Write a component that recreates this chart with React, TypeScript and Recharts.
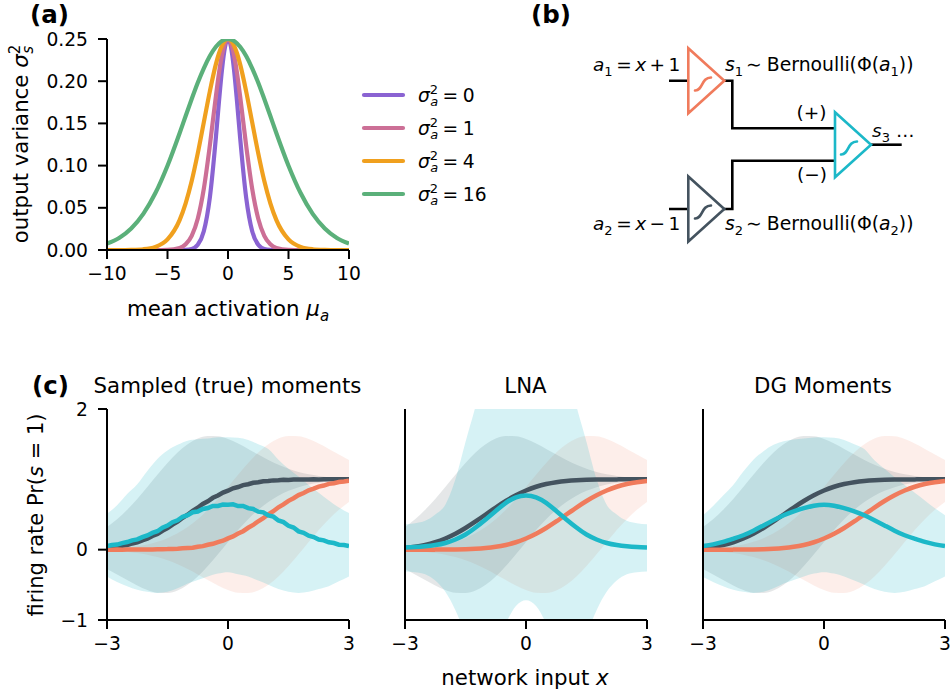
import { ComposedChart, LineChart, Line, Area, XAxis, YAxis } from "recharts";

const FONT = "'DejaVu Sans', sans-serif";
const ORANGE = "#f07b5c";
const DARK = "#44535f";
const TEAL = "#1cb8c8";

// panel (a)
const meanActivation = [
  -10, -9, -8, -7, -6, -5, -4, -3.5, -3, -2.5, -2, -1.5, -1, -0.75, -0.5, -0.25, 0,
  0.25, 0.5, 0.75, 1, 1.5, 2, 2.5, 3, 3.5, 4, 5, 6, 7, 8, 9, 10,
];
const variance0 = [
  0, 0, 0, 0, 0, 0, 0, 0.0002, 0.0013, 0.0062, 0.0222, 0.0623, 0.1335, 0.1753, 0.2133, 0.2403, 0.25,
  0.2403, 0.2133, 0.1753, 0.1335, 0.0623, 0.0222, 0.0062, 0.0013, 0.0002, 0, 0, 0, 0, 0, 0, 0,
];
const variance1 = [
  0, 0, 0, 0, 0, 0.0002, 0.0023, 0.0067, 0.0167, 0.037, 0.0724, 0.1237, 0.1823, 0.2092, 0.231, 0.245, 0.25,
  0.245, 0.231, 0.2092, 0.1823, 0.1237, 0.0724, 0.037, 0.0167, 0.0067, 0.0023, 0.0002, 0, 0, 0, 0, 0,
];
const variance4 = [
  0, 0, 0.0002, 0.0009, 0.0036, 0.0125, 0.0354, 0.0553, 0.0817, 0.1144, 0.1512, 0.188, 0.2202, 0.2328, 0.2422, 0.248, 0.25,
  0.248, 0.2422, 0.2328, 0.2202, 0.188, 0.1512, 0.1144, 0.0817, 0.0553, 0.0354, 0.0125, 0.0036, 0.0009, 0.0002, 0, 0,
];
const variance16 = [
  0.0076, 0.0143, 0.0255, 0.0428, 0.0675, 0.0999, 0.1384, 0.1588, 0.1789, 0.1982, 0.2153, 0.2298, 0.2408, 0.2448, 0.2477, 0.2494, 0.25,
  0.2494, 0.2477, 0.2448, 0.2408, 0.2298, 0.2153, 0.1982, 0.1789, 0.1588, 0.1384, 0.0999, 0.0675, 0.0428, 0.0255, 0.0143, 0.0076,
];
const varianceLabels = ["0", "1", "4", "16"];
const varianceColors = ["#8a63d2", "#cc6f96", "#f0a01e", "#5bb07a"];
const varianceTicks = [0, 0.05, 0.1, 0.15, 0.2, 0.25];
const activationTicks = [-10, -5, 0, 5, 10];

// panel (c), shared by all three plots
const inputX = [
  -3, -2.75, -2.5, -2.25, -2, -1.75, -1.5, -1.25, -1, -0.75, -0.5, -0.25, 0,
  0.25, 0.5, 0.75, 1, 1.25, 1.5, 1.75, 2, 2.25, 2.5, 2.75, 3,
];
const orangeMean = [
  0, 0.0001, 0.0002, 0.0006, 0.0013, 0.003, 0.0062, 0.0122, 0.0228, 0.0401, 0.0668, 0.1056, 0.1587,
  0.2266, 0.3085, 0.4013, 0.5, 0.5987, 0.6915, 0.7734, 0.8413, 0.8944, 0.9332, 0.9599, 0.9772,
];
const orangeHi = [
  0.011, 0.02, 0.028, 0.05, 0.073, 0.112, 0.163, 0.232, 0.321, 0.432, 0.566, 0.72, 0.89,
  1.064, 1.232, 1.382, 1.5, 1.579, 1.615, 1.611, 1.572, 1.509, 1.433, 1.352, 1.276,
];
const orangeLo = [
  -0.011, -0.02, -0.028, -0.048, -0.071, -0.106, -0.151, -0.207, -0.276, -0.352, -0.433, -0.509, -0.572,
  -0.611, -0.615, -0.579, -0.5, -0.382, -0.232, -0.064, 0.11, 0.28, 0.434, 0.568, 0.679,
];
const darkMean = [
  0.0228, 0.0401, 0.0668, 0.1056, 0.1587, 0.2266, 0.3085, 0.4013, 0.5, 0.5987, 0.6915, 0.7734, 0.8413,
  0.8944, 0.9332, 0.9599, 0.9772, 0.9878, 0.9938, 0.997, 0.9987, 0.9994, 0.9998, 0.9999, 1,
];
const darkHi = [
  0.321, 0.432, 0.566, 0.72, 0.89, 1.064, 1.232, 1.382, 1.5, 1.579, 1.615, 1.611, 1.572,
  1.509, 1.433, 1.352, 1.276, 1.207, 1.151, 1.106, 1.071, 1.048, 1.028, 1.02, 1.011,
];
const darkLo = [
  -0.276, -0.352, -0.433, -0.509, -0.572, -0.611, -0.615, -0.579, -0.5, -0.382, -0.232, -0.064, 0.11,
  0.28, 0.434, 0.568, 0.679, 0.768, 0.837, 0.888, 0.927, 0.95, 0.972, 0.98, 0.989,
];

// the sampled plot's means are noisy, so they are read on a finer grid
const sampledX = [
  -3, -2.875, -2.75, -2.625, -2.5, -2.375, -2.25, -2.125, -2, -1.875, -1.75, -1.625, -1.5, -1.375, -1.25, -1.125,
  -1, -0.875, -0.75, -0.625, -0.5, -0.375, -0.25, -0.125, 0, 0.125, 0.25, 0.375, 0.5, 0.625, 0.75, 0.875,
  1, 1.125, 1.25, 1.375, 1.5, 1.625, 1.75, 1.875, 2, 2.125, 2.25, 2.375, 2.5, 2.625, 2.75, 2.875, 3,
];
const sampledTeal = [
  0.05, 0.066, 0.072, 0.093, 0.108, 0.132, 0.146, 0.178, 0.202, 0.238, 0.262, 0.312, 0.342, 0.39, 0.418, 0.468,
  0.49, 0.532, 0.542, 0.578, 0.592, 0.622, 0.622, 0.642, 0.638, 0.645, 0.62, 0.622, 0.59, 0.578, 0.54, 0.53,
  0.488, 0.47, 0.415, 0.392, 0.34, 0.315, 0.26, 0.24, 0.2, 0.18, 0.145, 0.133, 0.105, 0.094, 0.07, 0.065, 0.05,
];
const sampledDark = [
  0.023, 0.032, 0.038, 0.054, 0.065, 0.088, 0.103, 0.133, 0.156, 0.194, 0.224, 0.269, 0.306, 0.357, 0.398, 0.453,
  0.497, 0.553, 0.596, 0.649, 0.688, 0.737, 0.77, 0.812, 0.838, 0.873, 0.891, 0.918, 0.93, 0.951, 0.958, 0.972,
  0.975, 0.985, 0.986, 0.993, 0.992, 0.997, 0.996, 0.999, 0.998, 1, 0.999, 1, 1, 1, 1, 1, 1,
];
const sampledOrange = [
  0, 0, 0.001, 0, 0.002, 0.001, 0.002, 0.002, 0.003, 0.004, 0.005, 0.007, 0.008, 0.011, 0.014, 0.019,
  0.025, 0.028, 0.042, 0.05, 0.069, 0.083, 0.108, 0.127, 0.161, 0.188, 0.229, 0.263, 0.311, 0.351, 0.404, 0.447,
  0.503, 0.547, 0.602, 0.643, 0.694, 0.731, 0.776, 0.806, 0.844, 0.867, 0.897, 0.912, 0.936, 0.945, 0.962, 0.968, 0.979,
];

const tealSampledHi = [
  0.51, 0.63, 0.79, 0.93, 1.12, 1.29, 1.41, 1.49, 1.55, 1.57, 1.58, 1.6, 1.6,
  1.59, 1.56, 1.5, 1.43, 1.28, 1.15, 1.04, 0.92, 0.81, 0.7, 0.6, 0.52,
];
const tealSampledLo = [
  -0.38, -0.46, -0.52, -0.57, -0.6, -0.615, -0.6, -0.55, -0.48, -0.43, -0.38, -0.34, -0.32,
  -0.35, -0.38, -0.44, -0.5, -0.56, -0.6, -0.615, -0.6, -0.56, -0.52, -0.45, -0.38,
];
const tealLnaMean = [
  0.032, 0.038, 0.048, 0.065, 0.095, 0.145, 0.215, 0.315, 0.43, 0.55, 0.665, 0.745, 0.77,
  0.745, 0.665, 0.55, 0.43, 0.315, 0.215, 0.145, 0.095, 0.065, 0.048, 0.038, 0.032,
];
const tealLnaHi = [
  0.36, 0.375, 0.41, 0.5, 0.64, 1.0, 1.53, 2.04, 2.6, 2.9, 3, 3, 3,
  3, 3, 2.9, 2.6, 2.04, 1.53, 1.0, 0.64, 0.5, 0.41, 0.375, 0.36,
];
const tealLnaLo = [
  -0.31, -0.32, -0.35, -0.44, -0.6, -0.86, -1.2, -1.5, -1.6, -1.4, -1.05, -0.8, -0.72,
  -0.8, -1.05, -1.4, -1.6, -1.5, -1.2, -0.86, -0.6, -0.44, -0.35, -0.32, -0.31,
];
const tealDgMean = [
  0.05, 0.075, 0.11, 0.155, 0.205, 0.27, 0.345, 0.42, 0.49, 0.545, 0.59, 0.625, 0.64,
  0.625, 0.59, 0.545, 0.49, 0.42, 0.345, 0.27, 0.205, 0.155, 0.11, 0.075, 0.05,
];
const tealDgHi = [
  0.49, 0.62, 0.77, 0.92, 1.11, 1.28, 1.4, 1.49, 1.54, 1.565, 1.58, 1.595, 1.6,
  1.59, 1.56, 1.5, 1.43, 1.27, 1.15, 1.03, 0.92, 0.81, 0.7, 0.59, 0.49,
];
const tealDgLo = [
  -0.39, -0.46, -0.52, -0.57, -0.6, -0.615, -0.6, -0.55, -0.48, -0.43, -0.38, -0.34, -0.32,
  -0.34, -0.38, -0.44, -0.5, -0.56, -0.6, -0.615, -0.6, -0.56, -0.52, -0.45, -0.38,
];
const rateTicks = [-1, 0, 2];
const inputTicks = [-3, 0, 3];

const varianceData = meanActivation.map((x, i) => ({
  x,
  v0: variance0[i],
  v1: variance1[i],
  v4: variance4[i],
  v16: variance16[i],
}));
const sampledData = sampledX.map((x, i) => ({
  x,
  teal: sampledTeal[i],
  dark: sampledDark[i],
  orange: sampledOrange[i],
}));

const minus = (v: number) => String(v).replace("-", "\u2212");
const tickStyle = { fontSize: 18.7, fontFamily: FONT, fill: "#000" };
const axisLine = { stroke: "#000", strokeWidth: 2 };
const tickLine = { stroke: "#000", strokeWidth: 2 };

function VarianceLegend() {
  return (
    <svg width={140} height={120} style={{ position: "absolute", left: 362, top: 83, overflow: "visible" }}>
      {varianceLabels.map((label, i) => {
        const y = 12 + i * 33;
        return (
          <g key={label}>
            <line x1={2} x2={41} y1={y} y2={y} stroke={varianceColors[i]} strokeWidth={4.2} strokeLinecap="round" />
            <text x={56} y={y + 6.5} fontSize={18.7} fontFamily={FONT} fill="#000">
              <tspan fontStyle="italic">σ</tspan>
              <tspan dy={-7.5} fontSize={13}>2</tspan>
              <tspan dx={-8} dy={12} fontSize={13} fontStyle="italic">a</tspan>
              <tspan dx={4.5} dy={-4.5}>=</tspan>
              <tspan dx={4.5}>{label}</tspan>
            </text>
          </g>
        );
      })}
    </svg>
  );
}

function VariancePanel() {
  return (
    <div style={{ position: "absolute", left: 27, top: 0 }}>
      <LineChart width={473} height={300} data={varianceData} margin={{ top: 39, right: 151, bottom: 0, left: 0 }}>
        <XAxis
          dataKey="x"
          type="number"
          domain={[-10, 10]}
          ticks={activationTicks}
          tickFormatter={minus}
          allowDataOverflow
          height={50}
          tick={tickStyle}
          tickSize={9}
          tickMargin={8}
          axisLine={axisLine}
          tickLine={tickLine}
          interval={0}
        />
        <YAxis
          type="number"
          domain={[0, 0.25]}
          ticks={varianceTicks}
          tickFormatter={(v: number) => v.toFixed(2)}
          allowDataOverflow
          width={80}
          tick={tickStyle}
          tickSize={9}
          tickMargin={10}
          axisLine={axisLine}
          tickLine={tickLine}
          interval={0}
        />
        <Line dataKey="v0" type="monotone" stroke={varianceColors[0]} strokeWidth={4.2} dot={false} isAnimationActive={false} />
        <Line dataKey="v1" type="monotone" stroke={varianceColors[1]} strokeWidth={4.2} dot={false} isAnimationActive={false} />
        <Line dataKey="v4" type="monotone" stroke={varianceColors[2]} strokeWidth={4.2} dot={false} isAnimationActive={false} />
        <Line dataKey="v16" type="monotone" stroke={varianceColors[3]} strokeWidth={4.2} dot={false} isAnimationActive={false} />
      </LineChart>
    </div>
  );
}

function RatePanel({ left, showY, sampled, tealMean, tealHi, tealLo }: {
  left: number;
  showY: boolean;
  sampled: boolean;
  tealMean: number[];
  tealHi: number[];
  tealLo: number[];
}) {
  const data = inputX.map((x, i) => ({
    x,
    orange: orangeMean[i],
    orangeBand: [orangeLo[i], orangeHi[i]],
    dark: darkMean[i],
    darkBand: [darkLo[i], darkHi[i]],
    teal: tealMean[i],
    tealBand: [tealLo[i], tealHi[i]],
  }));
  const curve = sampled ? "linear" : "natural";
  const lineData = sampled ? sampledData : data;
  return (
    <div style={{ position: "absolute", left: left - 60, top: 370 }}>
      <ComposedChart width={314} height={300} data={data} margin={{ top: 39, right: 12, bottom: 0, left: 0 }}>
        <XAxis
          dataKey="x"
          type="number"
          domain={[-3, 3]}
          ticks={inputTicks}
          tickFormatter={minus}
          allowDataOverflow
          height={50}
          tick={tickStyle}
          tickSize={9}
          tickMargin={8}
          axisLine={axisLine}
          tickLine={tickLine}
          interval={0}
        />
        <YAxis
          type="number"
          domain={[-1, 2]}
          ticks={rateTicks}
          tickFormatter={minus}
          allowDataOverflow
          width={60}
          tick={showY ? tickStyle : false}
          tickSize={showY ? 9 : 0}
          tickMargin={10}
          axisLine={axisLine}
          tickLine={showY ? tickLine : false}
          interval={0}
        />
        <Area dataKey="orangeBand" type="monotone" fill={ORANGE} fillOpacity={0.13} stroke="none" dot={false} activeDot={false} isAnimationActive={false} />
        <Area dataKey="darkBand" type="monotone" fill={DARK} fillOpacity={0.14} stroke="none" dot={false} activeDot={false} isAnimationActive={false} />
        <Area dataKey="tealBand" type="monotone" fill={TEAL} fillOpacity={0.18} stroke="none" dot={false} activeDot={false} isAnimationActive={false} />
        <Line data={lineData} dataKey="dark" type={curve} stroke={DARK} strokeWidth={4.5} dot={false} isAnimationActive={false} />
        <Line data={lineData} dataKey="orange" type={curve} stroke={ORANGE} strokeWidth={4.5} dot={false} isAnimationActive={false} />
        <Line data={lineData} dataKey="teal" type={curve} stroke={TEAL} strokeWidth={4.5} dot={false} isAnimationActive={false} />
      </ComposedChart>
    </div>
  );
}

function Unit({ x, y, color, sx, sy }: { x: number; y: number; color: string; sx: number; sy: number }) {
  return (
    <g fill="none" strokeLinejoin="miter">
      <path d={`M${x},${y - 32.5} L${x},${y + 32.5} L${x + 36},${y} Z`} stroke={color} strokeWidth={2.6} />
      <path d={`M${sx},${sy + 6.5} C${sx + 8},${sy + 7} ${sx + 6},${sy - 6.5} ${sx + 16},${sy - 6.5}`} stroke={color} strokeWidth={2.6} strokeLinecap="round" />
    </g>
  );
}

function Sub({ text, italic }: { text: string; italic?: boolean }) {
  return <tspan dy={5} fontSize={13} fontStyle={italic ? "italic" : "normal"}>{text}</tspan>;
}

function BernoulliText({ y, index }: { y: number; index: string }) {
  return (
    <text x={725} y={y} fontSize={18.8}>
      <tspan fontStyle="italic">s</tspan><Sub text={index} />
      <tspan dy={-5} dx={3}>∼</tspan>
      <tspan dx={5}>Bernoulli(Φ(</tspan><tspan fontStyle="italic">a</tspan><Sub text={index} /><tspan dy={-5}>))</tspan>
    </text>
  );
}

function ActivationText({ y, index, sign }: { y: number; index: string; sign: string }) {
  return (
    <text x={593} y={y} fontSize={18.5}>
      <tspan fontStyle="italic">a</tspan><Sub text={index} />
      <tspan dy={-5} dx={3.5}>=</tspan>
      <tspan dx={3.5} fontStyle="italic">x</tspan>
      <tspan dx={3.5}>{sign}</tspan>
      <tspan dx={3.5}>1</tspan>
    </text>
  );
}

function Overlay() {
  return (
    <svg width={951} height={696} style={{ position: "absolute", left: 0, top: 0, pointerEvents: "none" }} fontFamily={FONT} fontSize={21.3} fill="#000">
      <text x={30} y={23} fontSize={24.5} fontWeight="bold">(a)</text>
      <text x={531} y={23} fontSize={24.5} fontWeight="bold">(b)</text>
      <text x={32} y={394} fontSize={24.5} fontWeight="bold">(c)</text>

      <text x={228} y={316} textAnchor="middle">
        mean activation <tspan fontStyle="italic">μ</tspan><tspan dy={5} fontSize={15} fontStyle="italic">a</tspan>
      </text>
      <text transform="translate(28,144) rotate(-90)" textAnchor="middle">
        output variance <tspan fontStyle="italic">σ</tspan>
        <tspan dy={-8} fontSize={15}>2</tspan>
        <tspan dx={-9} dy={13} fontSize={15} fontStyle="italic">s</tspan>
      </text>

      <text x={227.5} y={393} textAnchor="middle">Sampled (true) moments</text>
      <text x={525.5} y={393} textAnchor="middle">LNA</text>
      <text x={823} y={393} textAnchor="middle">DG Moments</text>
      <text transform="translate(43,515) rotate(-90)" textAnchor="middle" fontSize={21}>
        firing rate Pr(<tspan fontStyle="italic">s</tspan> = 1)
      </text>
      <text x={525} y={685} textAnchor="middle">
        network input <tspan fontStyle="italic">x</tspan>
      </text>

      <g fill="none" stroke="#000" strokeWidth={2.6}>
        <path d="M669,80.7 H688 M724,80.7 H732.3 V128.3 H835" />
        <path d="M669,209 H688 M724,209 H732.3 V160.7 H835" />
        <path d="M871,144.7 H901.7" />
      </g>
      <Unit x={688.3} y={80.7} color={ORANGE} sx={695} sy={84} />
      <Unit x={688.3} y={209} color={DARK} sx={695} sy={212} />
      <Unit x={835} y={144.7} color={TEAL} sx={841} sy={148} />

      <ActivationText y={71} index="1" sign="+" />
      <BernoulliText y={71} index="1" />
      <ActivationText y={230} index="2" sign="−" />
      <BernoulliText y={230} index="2" />
      <text x={811.5} y={119} fontSize={18.5} textAnchor="middle">(+)</text>
      <text x={812} y={181} fontSize={18.5} textAnchor="middle">(−)</text>
      <text x={872} y={137} fontSize={18.5}>
        <tspan fontStyle="italic">s</tspan><Sub text="3" /><tspan dy={-5} dx={6}>…</tspan>
      </text>
    </svg>
  );
}

export default function App() {
  return (
    <div style={{ position: "absolute", left: 0, top: 0, width: 951, height: 696, background: "#fff", overflow: "hidden" }}>
      <VariancePanel />
      <VarianceLegend />
      <RatePanel left={107} showY sampled tealMean={tealDgMean} tealHi={tealSampledHi} tealLo={tealSampledLo} />
      <RatePanel left={404.5} showY={false} sampled={false} tealMean={tealLnaMean} tealHi={tealLnaHi} tealLo={tealLnaLo} />
      <RatePanel left={703} showY={false} sampled={false} tealMean={tealDgMean} tealHi={tealDgHi} tealLo={tealDgLo} />
      <Overlay />
    </div>
  );
}
